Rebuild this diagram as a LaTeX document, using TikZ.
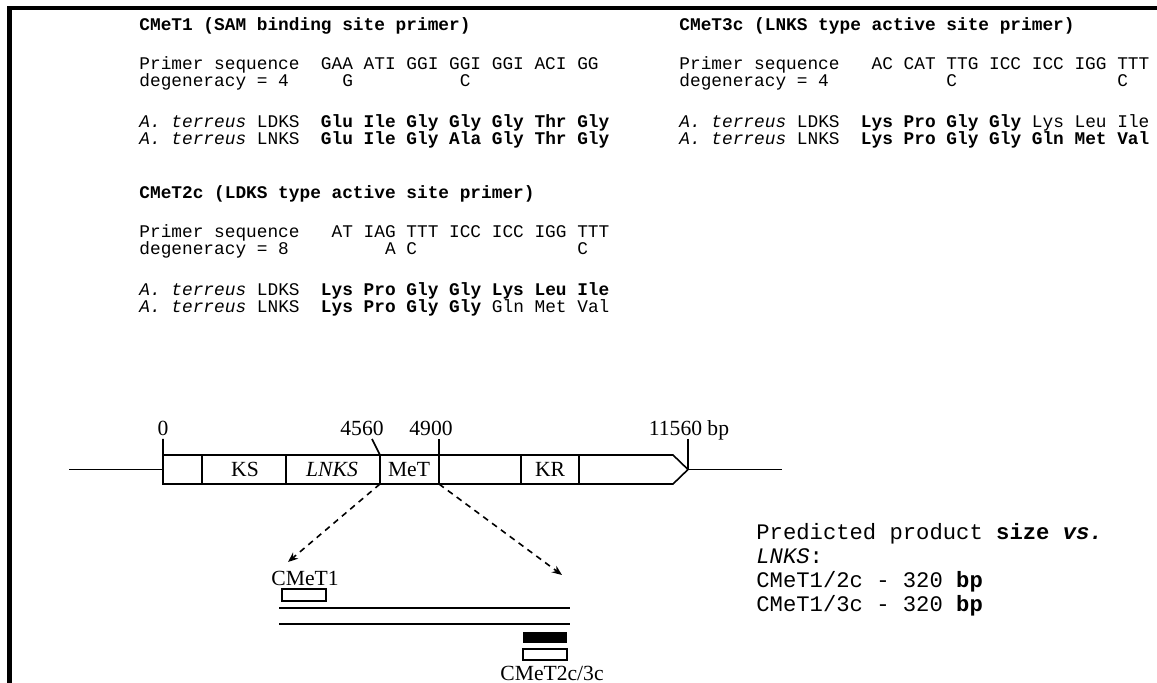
\documentclass[tikz,border=0pt]{standalone}
\usepackage{fontspec}
\setmainfont{Liberation Serif}
\setmonofont{Liberation Mono}
\usetikzlibrary{arrows.meta}

\begin{document}
\begin{tikzpicture}[
    x=0.5pt, y=-0.5pt,
    seq/.style={anchor=base west, inner sep=0pt, font=\ttfamily\fontsize{8.9}{10}\selectfont},
    seqhead/.style={seq, font=\ttfamily\bfseries\fontsize{8.9}{10}\selectfont},
    note/.style={anchor=base west, inner sep=0pt, font=\ttfamily\fontsize{11.1}{13}\selectfont},
    lbl/.style={anchor=base, inner sep=0pt, font=\fontsize{10.8}{12}\selectfont},
    dna/.style={line width=0.8pt},
    edgeline/.style={line width=2.4pt},
    zoomarrow/.style={line width=0.8pt, dash pattern=on 3pt off 2.5pt, -{Stealth[length=5pt, width=4pt]}},
    primerbox/.style={line width=0.8pt}
]
\useasboundingbox (0,0) rectangle (1157,683);

% ---------------------------------------------------------------
%  Primer CMeT1, CMeT2c, CMeT3c und Genkarte (0 - 11560 bp)
% ---------------------------------------------------------------

% Rahmen oben und links
\draw[edgeline] (7,8) -- (1157,8);
\draw[edgeline] (9.5,6.8) -- (9.5,683);

% CMeT1
\node[seqhead] (h1) at (139,31) {CMeT1 (SAM binding site primer)};
\node[seq] (p1) at (139,70) {Primer~sequence~~GAA~ATI~GGI~GGI~GGI~ACI~GG};
\node[seq] (d1) at (139,87) {degeneracy~=~4~~~~~G~~~~~~~~~~C};
\node[seq] (a1) at (139,128) {\textit{A.~terreus}~LDKS~~\textbf{Glu~Ile~Gly~Gly~Gly~Thr~Gly}};
\node[seq] (b1) at (139,145) {\textit{A.~terreus}~LNKS~~\textbf{Glu~Ile~Gly~Ala~Gly~Thr~Gly}};

% CMeT2c
\node[seqhead] (h2) at (139,199) {CMeT2c (LDKS type active site primer)};
\node[seq] (p2) at (139,238) {Primer~sequence~~~AT~IAG~TTT~ICC~ICC~IGG~TTT};
\node[seq] (d2) at (139,255) {degeneracy~=~8~~~~~~~~~A~C~~~~~~~~~~~~~~~C};
\node[seq] (a2) at (139,296) {\textit{A.~terreus}~LDKS~~\textbf{Lys~Pro~Gly~Gly~Lys~Leu~Ile}};
\node[seq] (b2) at (139,313) {\textit{A.~terreus}~LNKS~~\textbf{Lys~Pro~Gly~Gly}~Gln~Met~Val};

% CMeT3c
\node[seqhead] (h3) at (679,31) {CMeT3c (LNKS type active site primer)};
\node[seq] (p3) at (679,70) {Primer~sequence~~~AC~CAT~TTG~ICC~ICC~IGG~TTT};
\node[seq] (d3) at (679,87) {degeneracy~=~4~~~~~~~~~~~C~~~~~~~~~~~~~~~C};
\node[seq] (a3) at (679,128) {\textit{A.~terreus}~LDKS~~\textbf{Lys~Pro~Gly~Gly}~Lys~Leu~Ile};
\node[seq] (b3) at (679,145) {\textit{A.~terreus}~LNKS~~\textbf{Lys~Pro~Gly~Gly~Gln~Met~Val}};

% Genkarte: Flanken, Kasten mit Spitze, Domaenengrenzen
\draw[dna] (69,469.5) -- (163,469.5);
\draw[dna] (688,469.5) -- (782,469.5);
\draw[dna] (163,439) -- (163,484) -- (673,484) -- (688,469.5) -- (673,455) -- (163,455);
\foreach \xd in {202, 286, 380, 439, 521, 579}
    \draw[dna] (\xd,455) -- (\xd,484);

% Positionsmarken
\draw[dna] (372,439) -- (380,455);
\draw[dna] (439,439) -- (439,455);
\draw[dna] (688,439) -- (688,469.5);
\node[lbl] (m0) at (163,436) {0};
\node[lbl] (m4560) at (362,436) {4560};
\node[lbl] (m4900) at (431,436) {4900};
\node[lbl] (mend) at (689,436) {11560 bp};

% Domaenen
\node[lbl] (ks) at (245,477) {KS};
\node[lbl] (lnks) at (332,477) {\textit{LNKS}};
\node[lbl] (met) at (409,477) {MeT};
\node[lbl] (kr) at (550,477) {KR};

% Ausschnitt MeT
\coordinate (metL) at (380,484);
\coordinate (metR) at (439,484);
\coordinate (tipL) at (288,562);
\coordinate (tipR) at (562,575);
\draw[zoomarrow] (metL) -- (tipL);
\draw[zoomarrow] (metR) -- (tipR);

% PCR-Produkt mit Primern
\node[lbl] (c1) at (305,586) {CMeT1};
\draw[primerbox] (282,589) rectangle (326,601);
\draw[dna] (279,608) -- (570,608);
\draw[dna] (279,624) -- (570,624);
\fill (523,632) rectangle (567,643);
\draw[primerbox] (523,649) rectangle (567,660);
\node[lbl] (c23) at (552,681) {CMeT2c/3c};

% Produktgroesse
\node[note] (n1) at (756,540) {Predicted product \textbf{size \textit{vs.}}};
\node[note] (n2) at (756,564) {\textit{LNKS}:};
\node[note] (n3) at (756,588) {CMeT1/2c - 320 \textbf{bp}};
\node[note] (n4) at (756,612) {CMeT1/3c - 320 \textbf{bp}};

\end{tikzpicture}
\end{document}
